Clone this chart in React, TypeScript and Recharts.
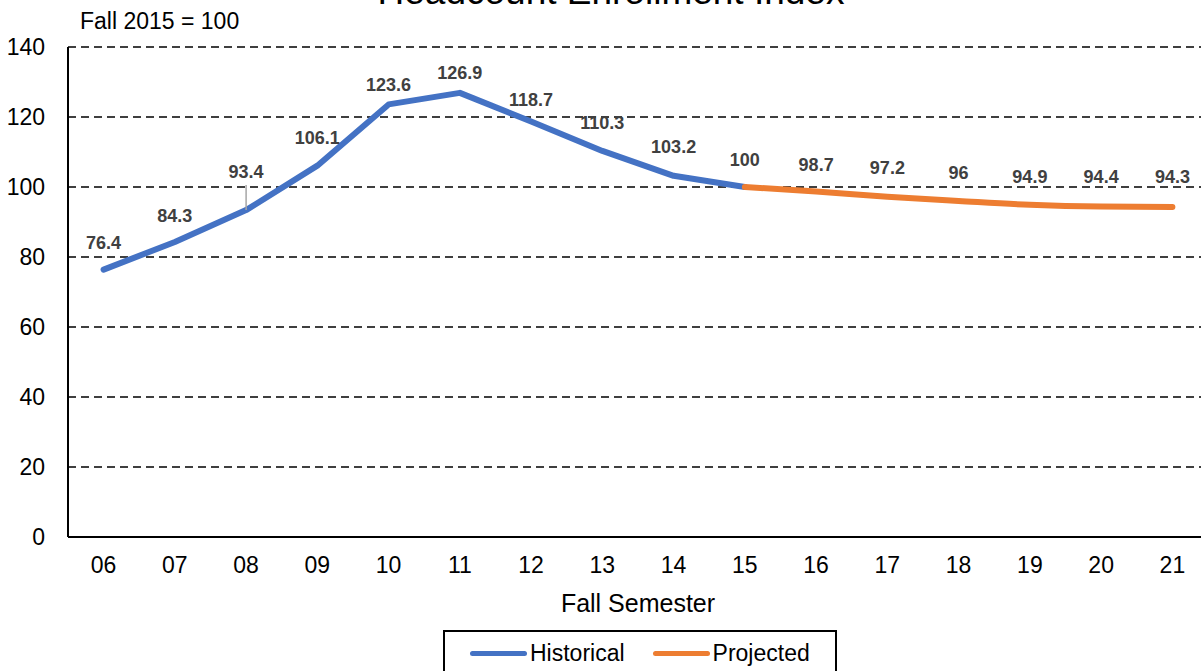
import { LineChart, Line, XAxis, YAxis, CartesianGrid, Legend, LabelList } from "recharts";

const semesters = ["06", "07", "08", "09", "10", "11", "12", "13", "14", "15", "16", "17", "18", "19", "20", "21"];
const historical = [76.4, 84.3, 93.4, 106.1, 123.6, 126.9, 118.7, 110.3, 103.2, 100];
// projection starts at the last historical point (fall 15)
const projected = [100, 98.7, 97.2, 96, 94.9, 94.4, 94.3];
const yTicks = [0, 20, 40, 60, 80, 100, 120, 140];

const projStart = historical.length - 1;

const data = semesters.map((s, i) => ({
  semester: s,
  historical: i < historical.length ? historical[i] : null,
  projected: i >= projStart ? projected[i - projStart] : null,
}));

const FONT = "'Liberation Sans', Arial, sans-serif";

// how far each data label sits above its point (hand-placed in the original)
const labelLift = [27, 26, 39, 28, 20, 20, 22, 28, 29, 28, 27, 29, 29, 28, 30, 30];

const renderLabel = (props: any, skip?: number) => {
  const { x, y, value, index } = props;
  if (value == null || x == null || y == null || index === skip) return null;
  const cy = y - labelLift[index];
  return (
    <g>
      {index === 2 && (
        <line x1={x} x2={x} y1={cy + 14} y2={y} stroke="#A6A6A6" strokeWidth={1.5} />
      )}
      <text
        x={x}
        y={cy + 6.5}
        textAnchor="middle"
        fontSize={18}
        fontWeight="bold"
        fill="#404040"
        fontFamily={FONT}
      >
        {value}
      </text>
    </g>
  );
};

const LegendBox = (props: any) => {
  const { payload } = props;
  return (
    <div
      style={{
        boxSizing: "border-box",
        width: 394,
        height: 46,
        border: "2px solid #000",
        background: "#fff",
        display: "flex",
        alignItems: "center",
        paddingLeft: 25,
        fontFamily: FONT,
        fontSize: 23,
        color: "#000",
      }}
    >
      {(payload || []).map((p: any, i: number) => (
        <div key={p.value} style={{ display: "flex", alignItems: "center", marginLeft: i === 0 ? 0 : 28 }}>
          <span
            style={{
              display: "inline-block",
              width: 57,
              height: 5,
              borderRadius: 3,
              background: p.color,
              marginRight: 3,
            }}
          />
          <span>{p.value}</span>
        </div>
      ))}
    </div>
  );
};

export default function App() {
  return (
    <div
      style={{
        position: "absolute",
        left: 0,
        top: 0,
        width: 1201,
        height: 671,
        overflow: "hidden",
        background: "#fff",
      }}
    >
      <LineChart
        width={1240}
        height={671}
        data={data}
        margin={{ top: 47, right: 32, bottom: 54, left: 0 }}
      >
        <CartesianGrid vertical={false} stroke="#000" strokeWidth={1.5} strokeDasharray="8 5" />
        <XAxis
          dataKey="semester"
          height={80}
          padding={{ left: 35.6, right: 35.6 }}
          tickLine={false}
          tickSize={0}
          tickMargin={20}
          axisLine={{ stroke: "#000", strokeWidth: 2 }}
          tick={{ fontSize: 23, fill: "#000", fontFamily: FONT }}
          interval={0}
          label={{
            value: "Fall Semester",
            position: "insideBottom",
            offset: 5,
            style: { fontSize: 25, fill: "#000", fontFamily: FONT },
          }}
        />
        <YAxis
          width={68}
          domain={[0, 140]}
          ticks={yTicks}
          interval={0}
          tickLine={false}
          tickSize={0}
          tickMargin={23}
          axisLine={{ stroke: "#000", strokeWidth: 2 }}
          tick={{ fontSize: 23, fill: "#000", fontFamily: FONT }}
        />
        <Legend
          layout="vertical"
          align="center"
          verticalAlign="middle"
          wrapperStyle={{ left: 443, top: 630, width: 394 }}
          content={LegendBox}
        />
        <Line
          type="linear"
          dataKey="historical"
          name="Historical"
          stroke="#4472C4"
          strokeWidth={6}
          strokeLinecap="round"
          strokeLinejoin="round"
          dot={false}
          activeDot={false}
          isAnimationActive={false}
        >
          <LabelList dataKey="historical" content={(p: any) => renderLabel(p)} />
        </Line>
        <Line
          type="monotone"
          dataKey="projected"
          name="Projected"
          stroke="#ED7D31"
          strokeWidth={6}
          strokeLinecap="round"
          strokeLinejoin="round"
          dot={false}
          activeDot={false}
          isAnimationActive={false}
        >
          <LabelList dataKey="projected" content={(p: any) => renderLabel(p, projStart)} />
        </Line>
      </LineChart>
      <svg
        width={1201}
        height={671}
        style={{ position: "absolute", left: 0, top: 0, pointerEvents: "none" }}
      >
        <text x={611} y={4} textAnchor="middle" fontSize={37} fill="#000" fontFamily={FONT}>
          Headcount Enrollment Index
        </text>
        <text x={80} y={29} fontSize={23} fill="#000" fontFamily={FONT}>
          Fall 2015 = 100
        </text>
      </svg>
    </div>
  );
}
